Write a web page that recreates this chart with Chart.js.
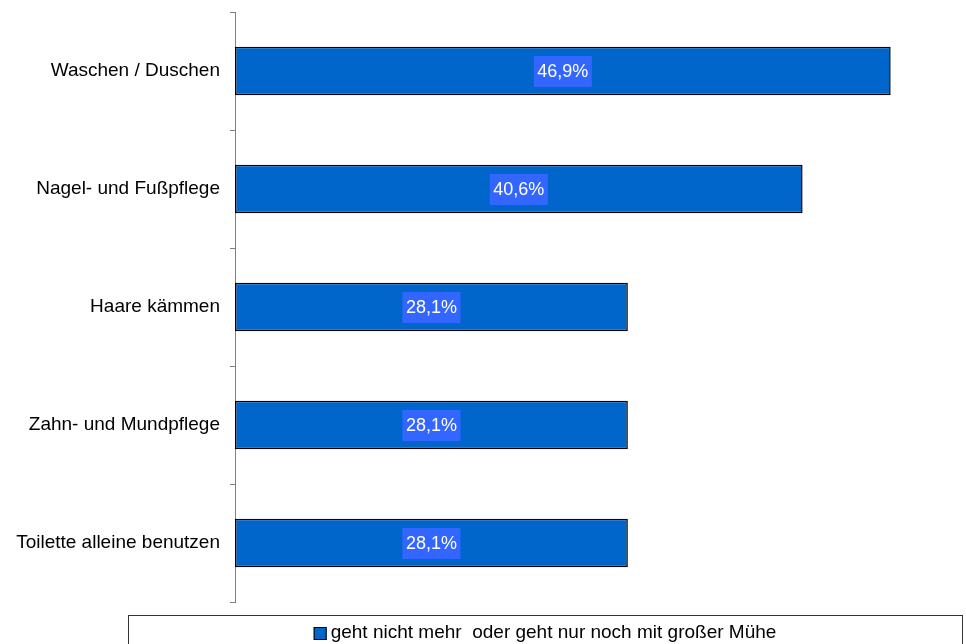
<!DOCTYPE html>
<html>
<head>
<meta charset="utf-8">
<script src="https://cdn.jsdelivr.net/npm/chart.js@4"></script>
<style>
  html, body { margin: 0; padding: 0; background: #fff; }
  canvas { display: block; }
</style>
</head>
<body>
<canvas id="myChart" width="966" height="644"></canvas>
<script>
// Chart data
const categories = ['Waschen / Duschen', 'Nagel- und Fußpflege', 'Haare kämmen', 'Zahn- und Mundpflege', 'Toilette alleine benutzen'];
const seriesLabel = 'geht nicht mehr  oder geht nur noch mit großer Mühe';
const values = [46.9, 40.6, 28.1, 28.1, 28.1];

const FONT = '"Liberation Sans", Arial, sans-serif';
const ctx = document.getElementById('myChart').getContext('2d');

// Labels on the bars: white text on a lighter blue box
const barLabels = {
  id: 'barLabels',
  afterDatasetsDraw(chart) {
    const c = chart.ctx;
    const meta = chart.getDatasetMeta(0);
    c.save();
    c.font = '18px ' + FONT;
    c.textAlign = 'center';
    c.textBaseline = 'middle';
    meta.data.forEach((bar, i) => {
      const txt = values[i].toFixed(1).replace('.', ',') + '%';
      const cx = (bar.x + bar.base) / 2;
      const w = c.measureText(txt).width + 7;
      c.fillStyle = '#3366FF';
      c.fillRect(cx - w / 2, bar.y - 15, w, 31);
      c.fillStyle = '#fff';
      c.fillText(txt, cx, bar.y + 1);
    });
    c.restore();
  }
};

// Legend drawn in a framed box below the plot
const legendBox = {
  id: 'legendBox',
  afterDraw(chart) {
    const c = chart.ctx;
    const ds = chart.data.datasets[0];
    c.save();
    c.strokeStyle = '#333';
    c.lineWidth = 1;
    c.strokeRect(128.5, 615.5, 834, 60);
    c.font = '19px ' + FONT;
    const tw = c.measureText(ds.label).width;
    const x0 = 545 - (13 + 4 + tw) / 2;
    c.fillStyle = ds.backgroundColor;
    c.fillRect(x0, 627, 13, 13);
    c.strokeStyle = '#000';
    c.strokeRect(x0 + 0.5, 627.5, 12, 12);
    c.fillStyle = '#000';
    c.textBaseline = 'middle';
    c.fillText(ds.label, x0 + 17, 633);
    c.restore();
  }
};

const chart = new Chart(ctx, {
  type: 'bar',
  data: {
    labels: categories,
    datasets: [{
      label: seriesLabel,
      data: values,
      backgroundColor: '#0066CC',
      borderColor: '#000',
      borderWidth: 1.5,
      borderSkipped: false,
      barPercentage: 0.41,
      categoryPercentage: 1
    }]
  },
  options: {
    indexAxis: 'y',
    responsive: false,
    animation: false,
    layout: { padding: { top: 12, right: 32, left: 0, bottom: 42 } },
    scales: {
      x: { display: false, min: 0, max: 50 },
      y: {
        offset: true,
        afterFit(scale) {
          scale.width = 235;
          scale.paddingTop = 0;
          scale.paddingBottom = 0;
        },
        grid: { drawOnChartArea: false, offset: true, tickLength: 5, color: '#808080' },
        border: { color: '#808080', width: 1 },
        ticks: {
          color: '#000',
          padding: 10,
          font: { family: FONT, size: 19 }
        }
      }
    },
    plugins: {
      tooltip: { enabled: false },
      legend: { display: false }
    }
  },
  plugins: [barLabels, legendBox]
});
</script>
</body>
</html>
